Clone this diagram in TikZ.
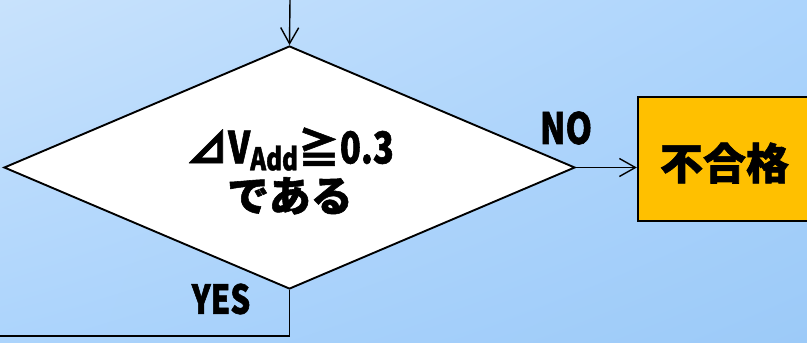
\documentclass[tikz,border=0pt]{standalone}
\usepackage{fontspec}
\usetikzlibrary{shapes.geometric,arrows.meta,shadings}
\newfontfamily\jpf{Noto Sans CJK JP}[BoldFeatures={FakeBold=1.3}]
\newfontfamily\latf{Noto Sans CJK JP}[FakeStretch=0.78,BoldFeatures={FakeBold=1.3}]
\definecolor{bgA}{RGB}{200,226,252}
\definecolor{bgB}{RGB}{172,212,252}
\definecolor{bgC}{RGB}{156,202,248}
\definecolor{boxorange}{RGB}{255,192,0}
\begin{document}
\begin{tikzpicture}[x=1pt,y=-1pt,
  conn/.style={draw=black,line width=1.4pt},
  arr/.style={conn,-{Straight Barb[length=16pt,width=18pt]}},
  lbl/.style={inner sep=0pt,font=\latf\bfseries\fontsize{43}{43}\selectfont},
  decision/.style={diamond,draw=black,line width=1.9pt,fill=white,inner sep=0pt,
     minimum width=571pt,minimum height=243pt},
  result/.style={rectangle,draw=black,line width=2.4pt,fill=boxorange,
     minimum width=176pt,minimum height=124pt,inner sep=0pt}]
\useasboundingbox (0,0) rectangle (807,343);
\clip (0,0) rectangle (807,343);
\shade[upper left=bgA,upper right=bgB,lower left=bgB,lower right=bgC] (0,0) rectangle (807,343);
\node[decision] (dec) at (289.5,167.5) {};
\node[align=center,inner sep=0pt,font=\jpf\bfseries\fontsize{42}{48}\selectfont] (dtext) at (290,171)
  {⊿{\latf\fontsize{44}{44}\selectfont V}\raisebox{-0.3ex}{\latf\fontsize{31}{31}\selectfont Add}≧{\latf\fontsize{44}{44}\selectfont 0.3}\\ である};
\node[result] (fail) at (726,159) {};
\node[inner sep=0pt] (failtext) at (724.5,163) {\jpf\bfseries\fontsize{43}{43}\selectfont 不合格};
\coordinate (topin) at (290,0);
\coordinate (yesend) at (0,336);
\draw[arr] (topin) -- (dec.north);
\draw[arr] (dec.east) -- (dec.east -| fail.west);
\draw[conn] (dec.south) |- (yesend);
\node[lbl] (no) at (566,128) {NO};
\node[lbl,font=\latf\bfseries\fontsize{40}{40}\selectfont] (yes) at (221,299) {YES};
\end{tikzpicture}
\end{document}
